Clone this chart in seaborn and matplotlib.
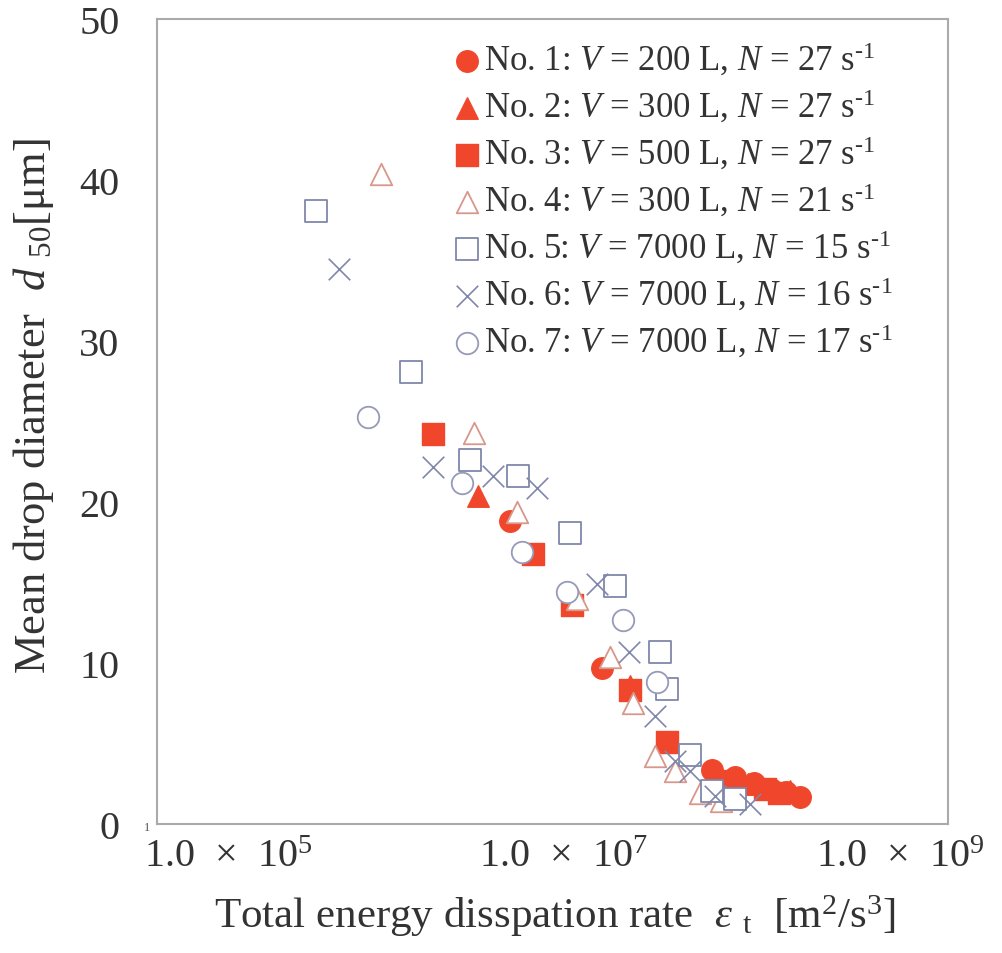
import numpy as np
import pandas as pd
import seaborn as sns
import matplotlib
matplotlib.use("Agg")
import matplotlib.pyplot as plt

sns.set_theme(style="white")
plt.rcParams['font.family'] = ['Liberation Serif', 'DejaVu Serif']
plt.rcParams['mathtext.fontset'] = 'custom'
plt.rcParams['mathtext.rm'] = 'Liberation Serif'
plt.rcParams['mathtext.it'] = 'Liberation Serif:italic'
plt.rcParams['mathtext.bf'] = 'Liberation Serif:bold'

# ---- data ----
labels = [
    'No. 1: $\\it{V}$ = 200 L, $\\it{N}$ = 27 s$^{\\rm \u20101}$',
    'No. 2: $\\it{V}$ = 300 L, $\\it{N}$ = 27 s$^{\\rm \u20101}$',
    'No. 3: $\\it{V}$ = 500 L, $\\it{N}$ = 27 s$^{\\rm \u20101}$',
    'No. 4: $\\it{V}$ = 300 L, $\\it{N}$ = 21 s$^{\\rm \u20101}$',
    'No. 5: $\\it{V}$ = 7000 L, $\\it{N}$ = 15 s$^{\\rm \u20101}$',
    'No. 6: $\\it{V}$ = 7000 L, $\\it{N}$ = 16 s$^{\\rm \u20101}$',
    'No. 7: $\\it{V}$ = 7000 L, $\\it{N}$ = 17 s$^{\\rm \u20101}$',
]

eps_no1 = [4.77e6, 1.68e7, 7.6e7, 1.04e8, 1.36e8, 1.71e8, 2.1e8, 2.54e8]
d50_no1 = [18.8, 9.7, 3.35, 2.9, 2.55, 2.2, 2.0, 1.7]

eps_no2 = [3.07e6, 1.12e7, 2.47e7, 8.2e7, 1.25e8, 2.2e8]
d50_no2 = [20.4, 13.8, 8.6, 3.0, 2.5, 2.05]

eps_no3 = [1.66e6, 6.54e6, 1.12e7, 2.47e7, 4.1e7, 8.6e7, 1.57e8, 1.9e8]
d50_no3 = [24.2, 16.8, 13.6, 8.3, 5.1, 2.65, 2.2, 1.9]

eps_no4 = [8.15e5, 2.91e6, 5.25e6, 1.19e7, 1.88e7, 2.58e7, 3.48e7, 4.58e7, 6.45e7, 8.6e7]
d50_no4 = [40.4, 24.3, 19.4, 14.0, 10.4, 7.5, 4.2, 3.3, 1.9, 1.4]

eps_no5 = [3.34e5, 1.23e6, 2.76e6, 5.33e6, 1.09e7, 2.01e7, 3.73e7, 4.1e7, 5.62e7, 7.6e7, 1.04e8]
d50_no5 = [38.1, 28.1, 22.6, 21.6, 18.1, 14.8, 10.7, 8.4, 4.3, 2.05, 1.55]

eps_no6 = [4.58e5, 1.66e6, 3.78e6, 6.91e6, 1.57e7, 2.44e7, 3.48e7, 4.58e7, 5.62e7, 7.9e7, 1.28e8]
d50_no6 = [34.5, 22.2, 21.6, 20.9, 14.9, 10.7, 6.7, 3.9, 3.3, 1.75, 1.25]

eps_no7 = [6.81e5, 2.47e6, 5.62e6, 1.04e7, 2.25e7, 3.58e7]
d50_no7 = [25.3, 21.2, 16.9, 14.4, 12.7, 8.8]

x_ticks = [1e5, 1e7, 1e9]
x_tick_labels = [r'1.0  $\times$  10$^{5}$', r'1.0  $\times$  10$^{7}$', r'1.0  $\times$  10$^{9}$']
y_ticks = [0, 10, 20, 30, 40, 50]

# ---- styles ----
red = '#F0472C'
salmon = '#D8978B'
slate = '#8087AA'
slate2 = '#979AB8'
txt = '#333333'

series = [
    (eps_no1, d50_no1, 'o', red, red, 1.0),
    (eps_no2, d50_no2, '^', red, red, 1.0),
    (eps_no3, d50_no3, 's', red, red, 1.0),
    (eps_no4, d50_no4, '^', 'white', salmon, 1.3),
    (eps_no5, d50_no5, 's', 'white', slate, 1.3),
    (eps_no6, d50_no6, 'x', slate, slate, 1.2),
    (eps_no7, d50_no7, 'o', 'white', slate2, 1.3),
]

fig = plt.figure(figsize=(10.02, 9.54), dpi=100)
ax = fig.add_axes([157/1002, 1-825/954, (948-157)/1002, (825-20)/954])

for i, (xs, ys, mk, fc, ec, lw) in enumerate(series):
    df = pd.DataFrame({'eps': xs, 'd50': ys})
    sns.scatterplot(data=df, x='eps', y='d50', ax=ax, marker=mk, s=240,
                    color=fc if mk != 'x' else ec,
                    edgecolor=ec if mk != 'x' else None,
                    linewidth=lw, label=labels[i], legend=False, zorder=3 + i)

ax.set_xscale('log')
ax.set_xlim(10**4.577, 10**9.286)
ax.set_ylim(0, 50)
ax.set_xticks(x_ticks)
ax.set_xticklabels(x_tick_labels)
ax.minorticks_off()
ax.set_yticks(y_ticks)
ax.tick_params(axis='both', length=0, labelsize=29, colors=txt)
ax.tick_params(axis='y', pad=27)
ax.tick_params(axis='x', pad=10)

for sp in ax.spines.values():
    sp.set_color('#AAAAAA')
    sp.set_linewidth(1.5)

ax.set_xlabel(r'Total energy disspation rate  $\varepsilon$ $_{\rm t}$  [m$^{2}$/s$^{3}$]',
              fontsize=31, color=txt)
ax.xaxis.set_label_coords(0.503, -0.084)
ax.set_ylabel(r'Mean drop diameter  $\it{d}$ $_{\rm 50}$[μm]',
              fontsize=32, color=txt)
ax.yaxis.set_label_coords(-0.128, 0.52)

leg = ax.legend(loc='upper left', bbox_to_anchor=(0.372, 0.973), frameon=False,
                fontsize=25, handlelength=0.9, handletextpad=0.05,
                labelspacing=0.28, borderaxespad=0, borderpad=0)
for t in leg.get_texts():
    t.set_color(txt)

fig.text(147/1002, 1-828/954, '1', fontsize=9, color='#555555', ha='center', va='center')

fig.savefig('out.png', dpi=100, facecolor='white')
